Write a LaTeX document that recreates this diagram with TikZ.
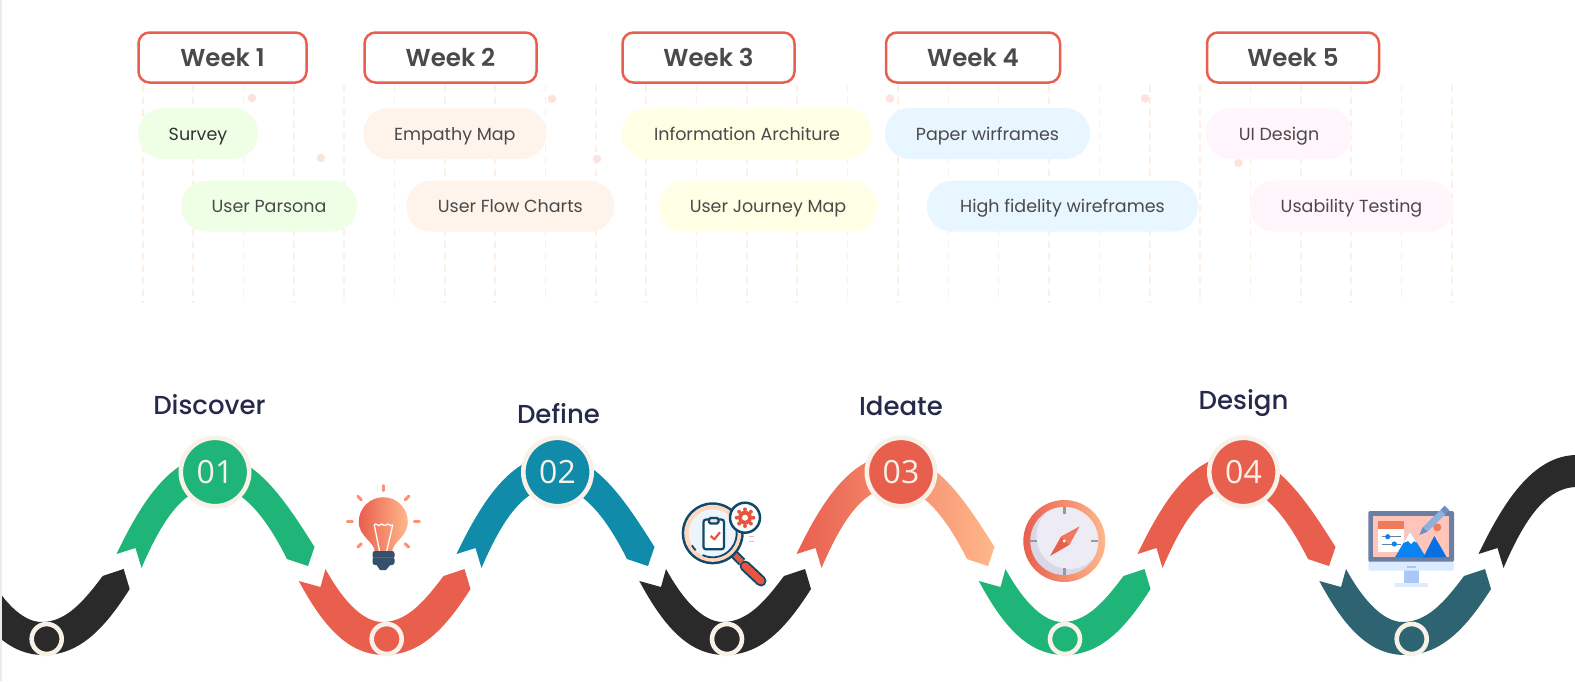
\documentclass[tikz,border=0pt]{standalone}
\usepackage{fontspec}
\setmainfont[BoldFont=Poppins SemiBold]{Poppins}
\newfontfamily\medfont{Poppins Medium}
\newfontfamily\numfont{Open Sans}
\usetikzlibrary{calc}
\definecolor{cream}{HTML}{F7F1E8}
\definecolor{rgreen}{HTML}{1FB578}
\definecolor{rblue}{HTML}{118BAA}
\definecolor{rred}{HTML}{E95F4E}
\definecolor{rblack}{HTML}{2A2A2A}
\definecolor{rteal}{HTML}{2E6472}
\definecolor{rpeach}{HTML}{FFB78B}
\definecolor{navy}{HTML}{252A4A}
\definecolor{gridc}{HTML}{FEEFE3}
\definecolor{dotc}{HTML}{FCE3DE}
\definecolor{txt}{HTML}{4A4A4A}
\definecolor{pgreen}{HTML}{EFFFE5}
\definecolor{ppeach}{HTML}{FFF4EC}
\definecolor{pyellow}{HTML}{FFFFE6}
\definecolor{pblue}{HTML}{E8F6FF}
\definecolor{ppink}{HTML}{FFF5FB}
\definecolor{idark}{HTML}{0F4A6B}
\definecolor{ired}{HTML}{E8553F}
\definecolor{ibase}{HTML}{34506B}
\definecolor{ibase2}{HTML}{4A6680}
\definecolor{iray}{HTML}{FF8F70}
\definecolor{iface}{HTML}{EEF4FC}
\definecolor{cface}{HTML}{EDEBF3}
\definecolor{cshade}{HTML}{D9D7E8}
\definecolor{mframe}{HTML}{6B7FA3}
\definecolor{mchin}{HTML}{DCEBFF}
\definecolor{mstand}{HTML}{A9C8F5}
\definecolor{mscreen}{HTML}{FFC5BA}
\definecolor{mbar}{HTML}{F07A5A}
\definecolor{mblue}{HTML}{0A84F0}
\definecolor{mblued}{HTML}{0A6FE0}
\definecolor{mpen}{HTML}{8FB0DD}
\definecolor{mpend}{HTML}{6F8FC0}
\tikzset{
  x=1pt,y=-1pt,
  weekbox/.style={draw=rred,line width=2.5pt,rounded corners=11pt,fill=white,text=txt,inner sep=0pt,text height=21pt,text depth=4pt,font=\fontsize{24.5}{26}\selectfont\bfseries},
  pill/.style={rounded corners=25pt,inner sep=0pt,text=txt,text height=17pt,text depth=4pt,font=\fontsize{17.5}{20}\selectfont},
  gridline/.style={draw=gridc,line width=1.6pt,dash pattern=on 7pt off 5pt},
  softdot/.style={circle,fill=dotc,inner sep=0pt,minimum size=8.5pt},
  phase/.style={text=navy,inner sep=0pt,text height=24pt,text depth=6pt,font=\medfont\fontsize{26}{30}\selectfont},
  bigdisc/.style={circle,draw=cream,line width=4.6pt,minimum size=68.4pt,inner sep=0pt,text=cream,font=\numfont\fontsize{32}{36}\selectfont},
  ringdisc/.style={circle,draw=cream,line width=4.6pt,minimum size=30pt,inner sep=0pt},
}
\newcommand{\upribbon}[2]{%
  \path[shift={(#1,0)},#2] (-98.5,554) .. controls (-75,505) and (-45,455) .. (0,455)
    .. controls (40,455) and (70,500) .. (99.5,547) -- (93,566) -- (72,559)
    .. controls (55,525) and (30,487) .. (0,487)
    .. controls (-33,487) and (-55,525) .. (-73.5,568) -- (-79.5,548) -- cycle;}
\newcommand{\downribbon}[2]{%
  \path[shift={(#1,0)},#2] (-88.7,581) -- (-67,587) -- (-62,569)
    .. controls (-45,600) and (-25,622) .. (-5,622)
    .. controls (20,622) and (38,600) .. (56,576) -- (77,569) -- (83,589)
    .. controls (60,625) and (35,655) .. (-3,655)
    .. controls (-40,655) and (-65,625) .. (-88.7,581) -- cycle;}
\begin{document}
\begin{tikzpicture}
\path[use as bounding box] (0,0) rectangle (1575,681);
\clip (0,0) rectangle (1575,681);
\fill[white] (0,0) rectangle (1575,681);

% grid
\foreach \k in {0,...,26}{
  \draw[gridline] ({142.7+50.35*\k},85) -- ({142.7+50.35*\k},303);
}
% dots
\node[softdot] (d1) at (252,98) {};
\node[softdot] (d2) at (321,158) {};
\node[softdot] (d3) at (552,99) {};
\node[softdot] (d4) at (597,159) {};
\node[softdot] (d5) at (890,98.5) {};
\node[softdot] (d6) at (1145,98.5) {};
\node[softdot] (d7) at (1238.5,163) {};

% weeks
\node[weekbox,minimum width=168pt,minimum height=50pt] (w1) at (222.5,57.5) {Week 1};
\node[weekbox,minimum width=172pt,minimum height=50pt] (w2) at (450.5,57.5) {Week 2};
\node[weekbox,minimum width=172pt,minimum height=50pt] (w3) at (708.5,57.5) {Week 3};
\node[weekbox,minimum width=174pt,minimum height=50pt] (w4) at (973,57.5) {Week 4};
\node[weekbox,minimum width=172pt,minimum height=50pt] (w5) at (1293,57.5) {Week 5};

% pills
\node[pill,fill=pgreen,minimum width=120pt,minimum height=51pt,text=black!80] (p1) at (198,133.5) {Survey};
\node[pill,fill=pgreen,minimum width=176pt,minimum height=51pt] (p2) at (269,206.2) {User Parsona};
\node[pill,fill=ppeach,minimum width=183pt,minimum height=51pt] (p3) at (454.8,133.5) {Empathy Map};
\node[pill,fill=ppeach,minimum width=208pt,minimum height=51pt] (p4) at (510.3,206.2) {User Flow Charts};
\node[pill,fill=pyellow,minimum width=250pt,minimum height=51pt] (p5) at (747,133.5) {Information Architure};
\node[pill,fill=pyellow,minimum width=218pt,minimum height=51pt] (p6) at (768,206.2) {User Journey Map};
\node[pill,fill=pblue,minimum width=205pt,minimum height=51pt] (p7) at (987.5,133.5) {Paper wirframes};
\node[pill,fill=pblue,minimum width=271pt,minimum height=51pt] (p8) at (1062.5,206.2) {High fidelity wireframes};
\node[pill,fill=ppink,minimum width=146pt,minimum height=51pt] (p9) at (1279,133.5) {UI Design};
\node[pill,fill=ppink,minimum width=204pt,minimum height=51pt] (p10) at (1351.5,206.2) {Usability Testing};

% ribbons
\downribbon{46.7}{fill=rblack}
\upribbon{215}{fill=rgreen}
\downribbon{387.5}{fill=rred}
\upribbon{555}{fill=rblue}
\downribbon{728}{fill=rblack}
\upribbon{895}{left color=rred,right color=rpeach}
\downribbon{1067.5}{fill=rgreen}
\upribbon{1236}{fill=rred}
\downribbon{1408}{fill=rteal}
\upribbon{1577}{fill=rblack}
\fill[black!8] (0,0) rectangle (2,681);

% discs
\node[bigdisc,fill=rgreen] (n1) at (215,472) {01};
\node[bigdisc,fill=rblue] (n2) at (557.5,472) {02};
\node[bigdisc,fill=rred] (n3) at (901,472) {03};
\node[bigdisc,fill=rred] (n4) at (1243.5,472) {04};
\node[ringdisc,fill=rblack] (r1) at (46.7,639) {};
\node[ringdisc,fill=rred] (r2) at (386.7,639) {};
\node[ringdisc,fill=rblack] (r3) at (727,639) {};
\node[ringdisc,fill=rgreen] (r4) at (1065,639) {};
\node[ringdisc,fill=rteal] (r5) at (1411.7,639) {};

% phase labels
\node[phase] (t1) at (209.5,405) {Discover};
\node[phase] (t2) at (558.5,414) {Define};
\node[phase] (t3) at (901,406) {Ideate};
\node[phase] (t4) at (1243.5,400) {Design};

% bulb
\foreach \a in {0,45,180,135,225,270,315}{
  \draw[line width=3pt,color=iray,line cap=round] ($(383.3,521.7)+(\a:31)$) -- ($(383.3,521.7)+(\a:36)$);
}
\path[left color=rred,right color=rpeach] (375,552) .. controls (374,541) and (358.8,537) .. (358.8,521.7)
  arc[start angle=180,end angle=360,radius=24.5]
  .. controls (407.8,537) and (393,541) .. (392,552) -- cycle;
\draw[white,line width=1.3pt,line join=round] (379.5,551) -- (374.3,525) .. controls (376,522) and (378,527) .. (380,525) .. controls (382,522) and (384,527) .. (386,525) .. controls (388,522) and (390,527) .. (392.7,525) -- (386.7,551);
\fill[ibase,rounded corners=2.5pt] (372.5,551) rectangle (394.5,559);
\fill[ibase,rounded corners=2.5pt] (372.5,557) rectangle (394.5,565);
\fill[ibase] (376,564) -- (391,564) -- (386,570) -- (380,570) -- cycle;
\fill[ibase2] (373,556.5) rectangle (394,558);

% magnifier
\draw[idark,line width=11pt,line cap=round] (745,566) -- (761,581);
\draw[ired,line width=7pt,line cap=round] (745,566) -- (761,581);
\draw[idark,line width=9pt] (733,553) -- (742,562);
\draw[ired,line width=5pt] (734,554) -- (742,562);
\fill[idark] (712.7,533.3) circle[radius=31];
\fill[rpeach!55] (712.7,533.3) circle[radius=28.5];
\fill[iface] (712.7,533.3) circle[radius=24];
\draw[idark,line width=1.8pt] (712.7,533.3) ++(-40:24) arc[start angle=-40,end angle=115,radius=24];
\draw[idark,line width=1.8pt] (712.7,533.3) ++(135:24) arc[start angle=135,end angle=150,radius=24];
\draw[idark,line width=2.2pt,fill=white,rounded corners=2.5pt] (703.5,519.5) rectangle (724,549.3);
\draw[idark,line width=2.2pt,fill=rpeach!45,rounded corners=1.5pt] (709,518) rectangle (718.5,523.5);
\draw[ired,line width=2.2pt,line join=round] (710.7,536) -- (714.3,539.3) -- (720,532.3);
\draw[idark,line width=2.5pt,fill=white] (745,517.7) circle[radius=15];
\fill[ired] (745,517.7) circle[radius=7];
\foreach \a in {0,45,...,315}{\fill[ired] ($(745,517.7)+(\a:8.3)$) circle[radius=2];}
\fill[white] (745,517.7) circle[radius=3];
\draw[rpeach,line width=1.5pt] (749,536.7) -- (754,536.7) (749,541.7) -- (754,541.7);

% compass
\path[left color=rred,right color=rpeach] (1064.3,541) circle[radius=41];
\fill[cshade] (1064.3,541) circle[radius=34];
\begin{scope}
\clip (1064.3,541) circle[radius=34];
\fill[cface] (1069.5,536) circle[radius=33];
\end{scope}
\foreach \a in {0,90,180,270}{
  \draw[gray!80,line width=2.8pt] ($(1064.3,541)+(\a:27)$) -- ($(1064.3,541)+(\a:34)$);
}
\fill[rred] (1079.3,526.7) -- (1061,536.7) -- (1050,556) -- (1069,545) -- cycle;
\fill[rred!70!rpeach] (1079.3,526.7) -- (1061,536.7) -- (1069,545) -- cycle;
\fill[white] (1064.3,541) circle[radius=1.6];

% monitor
\fill[mstand] (1404,570) rectangle (1419,584);
\fill[mchin] (1395,583.3) rectangle (1427.7,587.3);
\fill[mframe,rounded corners=2pt] (1368.3,511) rectangle (1454,562);
\fill[mchin,rounded corners=2pt] (1368.3,561.7) rectangle (1454,570.7);
\fill[mstand] (1407,566) rectangle (1416,567.5);
\fill[mscreen] (1373.3,516) rectangle (1449.3,557.3);
\fill[white] (1378.3,521) rectangle (1404,551.7);
\fill[mbar] (1378.3,521) rectangle (1404,528.7);
\draw[mframe,line width=1pt] (1381.7,536.7) -- (1400.7,536.7) (1381.7,544) -- (1400.7,544);
\fill[mblue] (1387.7,536.7) circle[radius=2.6] (1394.3,544) circle[radius=2.6];
\fill[mblue] (1395,557.3) -- (1410,531.7) -- (1426,557.3) -- cycle;
\fill[white] (1410,531.7) -- (1403.5,542.8) -- (1408,541) -- (1411,544) -- (1414,541) -- (1416.6,542.3) -- cycle;
\fill[mblued] (1423.3,557.3) -- (1434.3,536) -- (1446.7,557.3) -- cycle;
\fill[mbar] (1437.3,527.3) circle[radius=4];
\draw[mpen,line width=6.5pt] (1425,529.5) -- (1443,512);
\draw[mpend,line width=6.5pt] (1443,512) -- (1447,508);
\fill[mpend] (1419.3,535) -- (1422.7,527.2) -- (1427.3,531.8) -- cycle;
\end{tikzpicture}
\end{document}
